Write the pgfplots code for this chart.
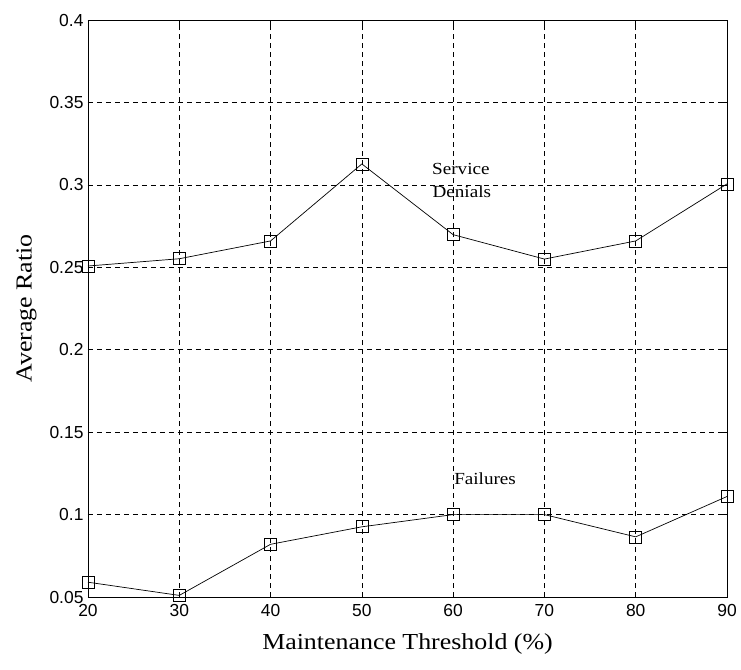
\documentclass[border=0pt]{standalone}
\usepackage{fontspec}
\setmainfont{Liberation Serif}
\newfontfamily\labelfont[FakeStretch=1.13]{Liberation Serif}
\newfontfamily\arial{Liberation Sans}
\usepackage{pgfplots}
\pgfplotsset{compat=1.18}
\begin{document}
\begin{tikzpicture}
\begin{axis}[
  scale only axis,
  width=639bp, height=577bp,
  xmin=20, xmax=90, ymin=0.05, ymax=0.4,
  xtick={20,30,...,90},
  ytick={0.05,0.1,0.15,0.2,0.25,0.3,0.35,0.4},
  yticklabels={0.05,0.1,0.15,0.2,0.25,0.3,0.35,0.4},
  grid=major,
  major grid style={black, line width=0.6bp, dash pattern=on 5bp off 4bp},
  axis line style={black, line width=0.9bp},
  tick align=inside,
  major tick length=5bp,
  tick style={black, line width=0.6bp},
  ticklabel style={font=\arial\fontsize{17.5}{19}\selectfont},
  /pgf/number format/assume math mode=true,
  xticklabel style={yshift=-4bp},
  yticklabel style={xshift=-1bp},
  xlabel={Maintenance Threshold (\%)},
  ylabel={Average Ratio},
  label style={font=\labelfont\fontsize{23}{25}\selectfont},
  xlabel style={yshift=-10bp},
  ylabel style={yshift=6bp},
  clip=false,
]
\path (axis description cs:-0.1377,-0.1248) rectangle (axis description cs:1.0219,1.0347);
\addplot[black, line width=0.7bp, mark=square, mark size=6bp, mark options={solid, line width=0.7bp}]
  coordinates {(20,0.2508) (30,0.2552) (40,0.2660) (50,0.3127) (60,0.2698) (70,0.2550) (80,0.2660) (90,0.3006)};
\addplot[black, line width=0.7bp, mark=square, mark size=6bp, mark options={solid, line width=0.7bp}]
  coordinates {(20,0.059) (30,0.051) (40,0.082) (50,0.0926) (60,0.1) (70,0.1) (80,0.0865) (90,0.111)};
\node[font=\labelfont\fontsize{17}{19}\selectfont, anchor=base, inner sep=0pt] at (axis cs:60.85,0.3066) {Service};
\node[font=\labelfont\fontsize{17}{19}\selectfont, anchor=base, inner sep=0pt] at (axis cs:60.95,0.2926) {Denials};
\node[font=\labelfont\fontsize{17}{19}\selectfont, anchor=base west, inner sep=0pt] at (axis cs:60.1,0.1182) {Failures};
\end{axis}
\end{tikzpicture}
\end{document}
